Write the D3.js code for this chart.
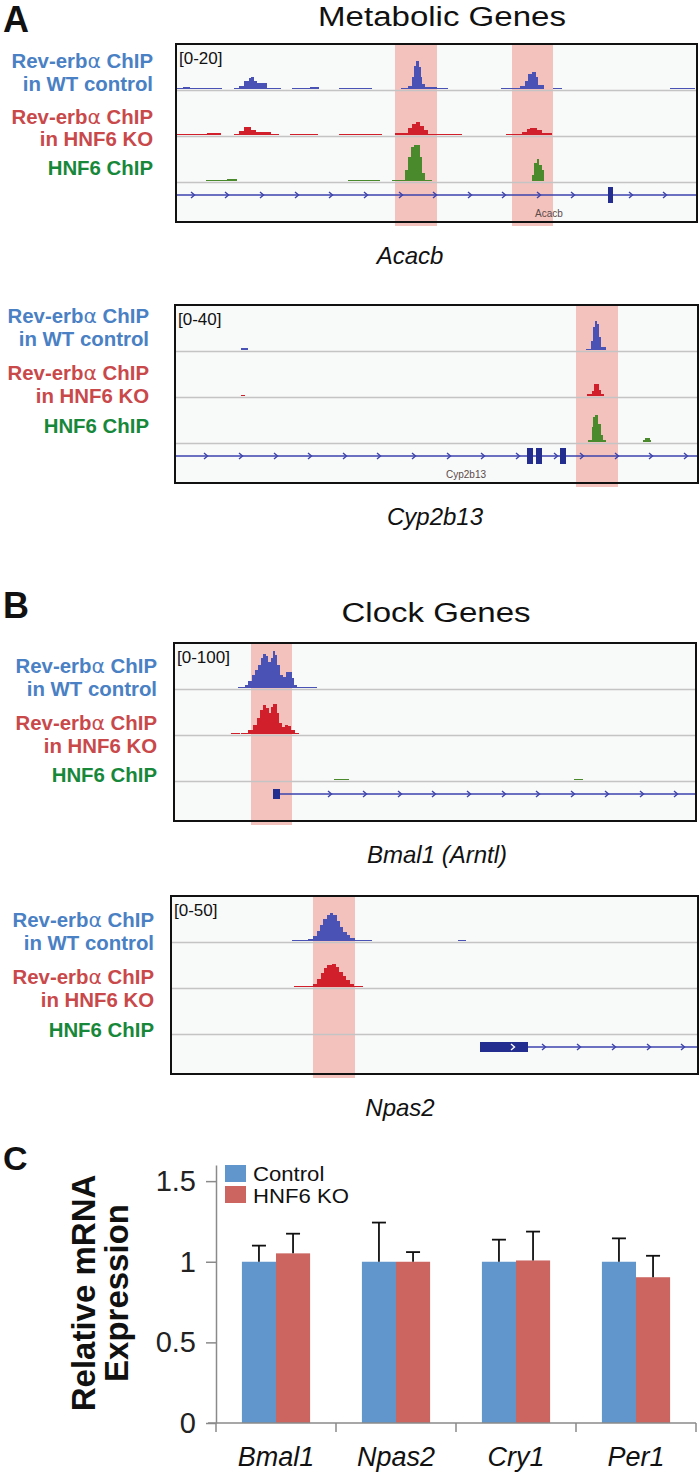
<!DOCTYPE html>
<html>
<head>
<meta charset="utf-8">
<script src="https://cdn.jsdelivr.net/npm/d3@7"></script>
<style>
body { margin: 0; background: #fff; }
svg { display: block; font-family: "Liberation Sans", Arial, Helvetica, sans-serif; }
</style>
</head>
<body>
<script>
// ---------- track data: [start kb, end kb, signal] ----------
var trackNames = [["Rev-erbα ChIP", "in WT control"], ["Rev-erbα ChIP", "in HNF6 KO"], ["HNF6 ChIP"]];
var geneNames = ["Acacb", "Cyp2b13", "Bmal1 (Arntl)", "Npas2"];
var dataRanges = [20, 40, 100, 50];

var acacbWT = [[0.1,0.7,0.3],[0.7,1.4,0.9],[1.4,4.6,0.3],
  [5.8,6.3,0.4],[6.3,6.8,1.5],[6.8,7.3,3.5],[7.3,7.5,4.6],[7.5,7.8,5.3],[7.8,8.1,3.6],[8.1,9.1,2.6],[9.1,10.5,0.3],
  [11.6,13.4,0.3],[13.4,14.3,0.9],[16.3,19.6,0.3],
  [22.5,23.2,0.4],[23.2,23.6,1.4],[23.6,23.8,5.2],[23.8,23.95,10],[23.95,24.3,12.2],[24.3,24.45,9.6],[24.45,24.6,5.2],[24.6,24.9,2.2],[24.9,26.1,0.9],[26.1,27.2,0.3],
  [32.5,34.4,0.3],[34.4,34.9,1.1],[34.9,35.2,3.5],[35.2,35.6,6.5],[35.6,36.0,7.4],[36.0,36.2,5.2],[36.2,36.8,1.7],
  [37.7,38.6,0.3],[49.4,51.9,0.3]];
var acacbKO = [[0.1,3.1,0.3],[3.1,4.5,0.9],
  [5.8,6.3,0.3],[6.3,6.8,1.8],[6.8,7.5,3.4],[7.5,8.0,2.2],[8.0,9.5,1.3],[9.5,10.3,0.3],
  [11.4,14.2,0.3],[16.3,20.6,0.3],
  [21.9,23.2,1.0],[23.2,23.6,3.0],[23.6,24.0,4.8],[24.0,24.4,5.7],[24.4,24.8,3.9],[24.8,25.2,2.0],[25.2,28.6,0.3],
  [33.0,34.6,0.3],[34.6,35.1,1.3],[35.1,35.4,2.6],[35.4,36.1,3.0],[36.1,36.6,2.0],[36.6,37.6,0.9]];
var acacbHNF6 = [[3.0,5.1,0.3],[5.1,6.1,0.9],[17.2,20.4,0.3],
  [21.6,22.9,0.3],[22.9,23.2,4.8],[23.2,23.5,10.4],[23.5,23.8,14.8],[23.8,24.4,15.7],[24.4,24.6,10.4],[24.6,24.9,3.5],[24.9,25.6,0.4],
  [35.6,35.8,2.6],[35.8,36.1,7.8],[36.1,36.3,9.6],[36.3,36.6,7.0],[36.6,36.8,4.8]];

var cyp2b13WT = [[6.6,7.3,1.5],
  [41.1,41.6,1.3],[41.6,41.8,7.8],[41.8,42.0,20],[42.0,42.2,25.2],[42.2,42.4,22.6],[42.4,42.6,11.3],[42.6,43.1,2.6]];
var cyp2b13KO = [[6.6,7.0,1],
  [41.2,41.7,1.5],[41.7,41.9,4.4],[41.9,42.4,10.4],[42.4,42.6,5.2],[42.6,42.9,1.7]];
var cyp2b13HNF6 = [[41.3,41.7,1.5],[41.7,41.8,13],[41.8,42.0,21.7],[42.0,42.3,23.5],[42.3,42.6,15.7],[42.6,42.8,6.1],[42.8,43.1,1.5],
  [46.8,47.0,1.7],[47.0,47.5,3.5],[47.5,47.6,1.7]];

var bmal1WT = [[6.4,7.1,1],[7.1,7.4,6.5],[7.4,7.8,15],[7.8,8.1,28],[8.1,8.4,39],[8.4,8.7,50],[8.7,8.9,65],[8.9,9.2,74],[9.2,9.4,69],
  [9.4,9.7,56],[9.7,9.9,65],[9.9,10.1,80],[10.1,10.3,72],[10.3,10.6,50],[10.6,10.9,28],[10.9,11.2,24],[11.2,11.4,35],[11.4,11.8,35],
  [11.8,12.0,22],[12.0,12.3,6.5],[12.3,14.3,1.5]];
var bmal1KO = [[5.7,6.6,2],[6.7,7.4,2],[7.4,7.9,8.7],[7.9,8.3,19.5],[8.3,8.6,35],[8.6,8.9,52],[8.9,9.2,63],[9.2,9.5,56],[9.5,9.7,46],
  [9.7,9.9,59],[9.9,10.3,65],[10.3,10.5,46],[10.5,10.8,24],[10.8,11.1,15],[11.1,11.4,19.5],[11.4,11.7,17],[11.7,12.1,8.7],[12.1,12.5,2]];
var bmal1HNF6 = [[16.0,17.5,2],[40.0,40.9,2]];

var npas2WT = [[12.1,13.7,0.6],[13.7,14.2,2.5],[14.2,14.6,5.4],[14.6,14.9,10.9],[14.9,15.2,17.4],[15.2,15.6,23.9],[15.6,15.9,28.3],
  [15.9,16.2,30.4],[16.2,16.6,28.3],[16.6,16.9,21.7],[16.9,17.2,15.2],[17.2,17.6,9.8],[17.6,17.9,6.5],[17.9,18.4,3.3],[18.4,20.1,0.8],
  [28.7,29.5,1.5]];
var npas2KO = [[12.3,14.2,0.8],[14.2,14.6,3.6],[14.6,15.0,8.7],[15.0,15.3,15.2],[15.3,15.6,20.7],[15.6,16.1,23.9],[16.1,16.5,25],
  [16.5,16.8,21.7],[16.8,17.2,16.3],[17.2,17.5,12],[17.5,17.9,7.6],[17.9,18.3,3.6],[18.3,19.2,1.1]];
var npas2HNF6 = [];

// shaded binding sites [start, end]
var acacbSites = [[21.9,26.1],[33.6,37.7]];
var cyp2b13Sites = [[40.1,44.3]];
var bmal1Sites = [[7.7,11.8]];
var npas2Sites = [[14.2,18.4]];

// gene models
var acacbSpan = [0, 52.1], acacbExons = [[43.2,43.7,"cds"]];
var acacbChevrons = [1.7,5.1,8.6,12.1,15.5,19.0,22.5,25.9,29.4,32.8,36.3,39.7,45.5,48.9];
var cyp2b13Span = [0, 52.3], cyp2b13Exons = [[35.2,35.8,"cds"],[36.1,36.7,"cds"],[38.5,39.1,"cds"]];
var cyp2b13Chevrons = [3.1,6.6,10.1,13.5,17.0,20.4,23.9,27.4,30.8,34.3,38.1,40.7,44.2,47.6,51.1];
var bmal1Span = [9.9, 52.2], bmal1Exons = [[9.9,10.6,"utr"]];
var bmal1Chevrons = [15.6,19.1,22.6,26.0,29.5,33.0,36.4,39.9,43.3,46.8,50.2];
var npas2Span = [30.9, 52.7], npas2Exons = [[30.9,35.7,"utr"]];
var npas2Chevrons = [34.2,37.3,40.8,44.3,47.8,51.2];

// ---------- bar chart data ----------
var barGenes = ["Bmal1", "Npas2", "Cry1", "Per1"];
var barSeries = ["Control", "HNF6 KO"];
var controlMean = [1.0, 1.0, 1.0, 1.0];
var controlErr = [0.10, 0.243, 0.137, 0.145];
var koMean = [1.052, 1.0, 1.008, 0.904];
var koErr = [0.122, 0.06, 0.179, 0.133];
var yTicks = [0, 0.5, 1, 1.5];

// ---------- styles ----------
var trackColors = ["#4b52b6", "#d21f2c", "#4a8a2d"];
var labelColors = ["#4a80c4", "#c9494b", "#17883a"];
var barColors = ["#6196cc", "#cc6560"];
var boxH = 178;

var svg = d3.select("body").append("svg").attr("width", 700).attr("height", 1476);

function addText(x, y, str, o) {
	o = o || {};
	var tr = "translate(" + x + "," + y + ")";
	if (o.sx) tr += " scale(" + o.sx + ",1)";
	if (o.rot) tr += " rotate(" + o.rot + ")";
	var t = svg.append("text")
		.attr("transform", tr)
		.attr("text-anchor", o.anchor || "start")
		.style("font-size", o.size + "px")
		.style("font-weight", o.bold ? "bold" : "normal")
		.style("font-style", o.italic ? "italic" : "normal")
		.style("fill", o.color || "#111");
	// alpha in a lighter face, like the symbol font
	var parts = str.split("α");
	parts.forEach(function(p, i){
		if (i > 0) t.append("tspan").style("font-weight", "normal").style("font-family", "'DejaVu Sans'").text("α");
		t.append("tspan").text(p);
	});
	return t;
}

function drawPanel(p) {
	var x = d3.scaleLinear().domain([0, (p.right - p.left) / 10]).range([p.left, p.right]);
	var g = svg.append("g");

	g.append("rect").attr("x", p.left).attr("y", p.top)
		.attr("width", p.right - p.left).attr("height", boxH).attr("fill", "#f8f9f9");

	g.selectAll(".site").data(p.sites).enter().append("rect")
		.attr("x", function(d){ return x(d[0]); })
		.attr("width", function(d){ return x(d[1]) - x(d[0]); })
		.attr("y", p.top).attr("height", boxH + 4)
		.attr("fill", "#f3c2bd");

	p.tracks.forEach(function(bins, i){
		var base = p.top + 45 + i * 46;
		var y = d3.scaleLinear().domain([0, p.range]).range([base, base - 46]);
		g.append("line").attr("x1", p.left).attr("x2", p.right)
			.attr("y1", base + 1.5).attr("y2", base + 1.5)
			.attr("stroke", "#c4c4c4").attr("stroke-width", 1.5);
		g.selectAll(null).data(bins).enter().append("rect")
			.attr("x", function(d){ return x(d[0]); })
			.attr("width", function(d){ return x(d[1]) - x(d[0]); })
			.attr("y", function(d){ return Math.min(y(d[2]), base - 1.5); })
			.attr("height", function(d){ return Math.max(1.5, base - y(d[2])); })
			.attr("fill", trackColors[i])
			.attr("shape-rendering", "crispEdges");

		// track labels
		var lab = trackNames[i];
		lab.forEach(function(s, j){
			addText(p.labelX, p.labelY[i === 0 ? j : (i === 1 ? 2 + j : 4)], s,
				{ size: 20, bold: true, anchor: "end", color: labelColors[i], sx: 1.02 });
		});
	});

	// gene model
	var gy = p.top + 45 + 2 * 46 + 14;
	g.append("line").attr("x1", x(p.span[0])).attr("x2", x(p.span[1]))
		.attr("y1", gy).attr("y2", gy).attr("stroke", "#3d43ad").attr("stroke-width", 1.6);
	g.selectAll(".exon").data(p.exons).enter().append("rect")
		.attr("x", function(d){ return x(d[0]); })
		.attr("width", function(d){ return x(d[1]) - x(d[0]); })
		.attr("y", function(d){ return gy - (d[2] == "cds" ? 8 : 5); })
		.attr("height", function(d){ return d[2] == "cds" ? 16 : 10; })
		.attr("fill", "#232d8f");
	g.selectAll(".chev").data(p.chevrons).enter().append("path")
		.attr("d", function(d){ return "M" + (x(d) - 2) + "," + (gy - 3) + "L" + (x(d) + 1.5) + "," + gy + "L" + (x(d) - 2) + "," + (gy + 3); })
		.attr("fill", "none")
		.attr("stroke", function(d){
			var inside = p.exons.some(function(e){ return d > e[0] && d < e[1]; });
			return inside ? "#fff" : "#3d43ad";
		})
		.attr("stroke-width", 1.4);
	if (p.inLabel) {
		g.append("text").attr("x", x(p.inLabel[1])).attr("y", gy + 22)
			.attr("text-anchor", "middle").style("font-size", "10px").style("fill", "#5b4a48")
			.text(p.inLabel[0]);
	}

	g.append("rect").attr("x", p.left).attr("y", p.top)
		.attr("width", p.right - p.left).attr("height", boxH)
		.attr("fill", "none").attr("stroke", "#111").attr("stroke-width", 2);

	addText(p.left + 3, p.top + 20, "[0-" + p.range + "]", { size: 17 });
	addText(p.geneX, p.top + boxH + 42, p.gene, { size: 24, italic: true, anchor: "middle" });
}

// panel A
addText(3, 32, "A", { size: 36, bold: true });
addText(442, 26, "Metabolic Genes", { size: 28, sx: 1.18, anchor: "middle" });
drawPanel({ left: 176, right: 697, top: 44, range: dataRanges[0], gene: geneNames[0], geneX: 410,
	tracks: [acacbWT, acacbKO, acacbHNF6], sites: acacbSites, span: acacbSpan, exons: acacbExons,
	chevrons: acacbChevrons, inLabel: ["Acacb", 37.3], labelX: 153, labelY: [68, 91, 124, 146, 175] });
drawPanel({ left: 175, right: 698, top: 305, range: dataRanges[1], gene: geneNames[1], geneX: 435,
	tracks: [cyp2b13WT, cyp2b13KO, cyp2b13HNF6], sites: cyp2b13Sites, span: cyp2b13Span, exons: cyp2b13Exons,
	chevrons: cyp2b13Chevrons, inLabel: ["Cyp2b13", 29.1], labelX: 149, labelY: [323, 346, 380, 403, 433] });

// panel B
addText(3, 618, "B", { size: 36, bold: true });
addText(436, 622, "Clock Genes", { size: 28, sx: 1.18, anchor: "middle" });
drawPanel({ left: 174, right: 696, top: 643, range: dataRanges[2], gene: geneNames[2], geneX: 437,
	tracks: [bmal1WT, bmal1KO, bmal1HNF6], sites: bmal1Sites, span: bmal1Span, exons: bmal1Exons,
	chevrons: bmal1Chevrons, labelX: 157, labelY: [673, 696, 730, 753, 782] });
drawPanel({ left: 171, right: 698, top: 896, range: dataRanges[3], gene: geneNames[3], geneX: 400,
	tracks: [npas2WT, npas2KO, npas2HNF6], sites: npas2Sites, span: npas2Span, exons: npas2Exons,
	chevrons: npas2Chevrons, labelX: 154, labelY: [927, 950, 984, 1007, 1037] });

// ---------- panel C: bar chart ----------
addText(3, 1170, "C", { size: 34, bold: true });

var y = d3.scaleLinear().domain([0, 1.6]).range([1423, 1165]);
var x0 = d3.scaleBand().domain(barGenes).range([216, 696]);
var x1 = d3.scaleBand().domain(barSeries).range([0, x0.bandwidth()]).paddingOuter(0.76);

var means = [controlMean, koMean], errs = [controlErr, koErr];
var bars = [];
barGenes.forEach(function(gn, i){
	barSeries.forEach(function(s, j){
		bars.push({ gene: gn, series: s, v: means[j][i], e: errs[j][i], k: j });
	});
});

svg.selectAll(".bar").data(bars).enter().append("rect")
	.attr("x", function(d){ return x0(d.gene) + x1(d.series); })
	.attr("width", x1.bandwidth())
	.attr("y", function(d){ return y(d.v); })
	.attr("height", function(d){ return y(0) - y(d.v); })
	.attr("fill", function(d){ return barColors[d.k]; });

var eb = svg.selectAll(".err").data(bars).enter().append("g").attr("stroke", "#111").attr("stroke-width", 1.8);
eb.append("line")
	.attr("x1", function(d){ return x0(d.gene) + x1(d.series) + x1.bandwidth() / 2; })
	.attr("x2", function(d){ return x0(d.gene) + x1(d.series) + x1.bandwidth() / 2; })
	.attr("y1", function(d){ return y(d.v); })
	.attr("y2", function(d){ return y(d.v + d.e); });
eb.append("line")
	.attr("x1", function(d){ return x0(d.gene) + x1(d.series) + x1.bandwidth() / 2 - 7; })
	.attr("x2", function(d){ return x0(d.gene) + x1(d.series) + x1.bandwidth() / 2 + 7; })
	.attr("y1", function(d){ return y(d.v + d.e); })
	.attr("y2", function(d){ return y(d.v + d.e); });

var yAxis = svg.append("g").attr("transform", "translate(216,0)")
	.call(d3.axisLeft(y).tickValues(yTicks).tickSize(10).tickSizeOuter(0).tickPadding(10).tickFormat(function(d){ return String(d); }));
yAxis.select(".domain").attr("stroke", "#8a8a8a").attr("stroke-width", 1.5);
yAxis.selectAll(".tick line").attr("stroke", "#8a8a8a").attr("stroke-width", 1.5);
yAxis.selectAll(".tick text").style("font-size", "29px").style("fill", "#222")
	.style("font-family", "'Liberation Sans', Arial, sans-serif");

// x axis: baseline with ticks at group boundaries
svg.append("line").attr("x1", 208).attr("x2", x0.range()[1]).attr("y1", y(0)).attr("y2", y(0))
	.attr("stroke", "#8a8a8a").attr("stroke-width", 1.5);
var bounds = barGenes.map(function(d){ return x0(d); }).concat([x0.range()[1]]);
svg.selectAll(".xt").data(bounds).enter().append("line")
	.attr("x1", function(d){ return d; }).attr("x2", function(d){ return d; })
	.attr("y1", y(0)).attr("y2", y(0) + 9)
	.attr("stroke", "#8a8a8a").attr("stroke-width", 1.5);
barGenes.forEach(function(gn){
	addText(x0(gn) + x0.bandwidth() / 2, 1466, gn, { size: 27, italic: true, anchor: "middle" });
});

// axis title
addText(95, 1293, "Relative mRNA", { size: 33, bold: true, anchor: "middle", rot: -90 });
addText(128, 1293, "Expression", { size: 33, bold: true, anchor: "middle", rot: -90 });

// legend
barSeries.forEach(function(s, i){
	svg.append("rect").attr("x", 225).attr("y", 1165 + i * 21).attr("width", 21).attr("height", 17).attr("fill", barColors[i]);
	addText(253, 1181 + i * 22, s, { size: 20.5, sx: 1.08 });
});
</script>
</body>
</html>
